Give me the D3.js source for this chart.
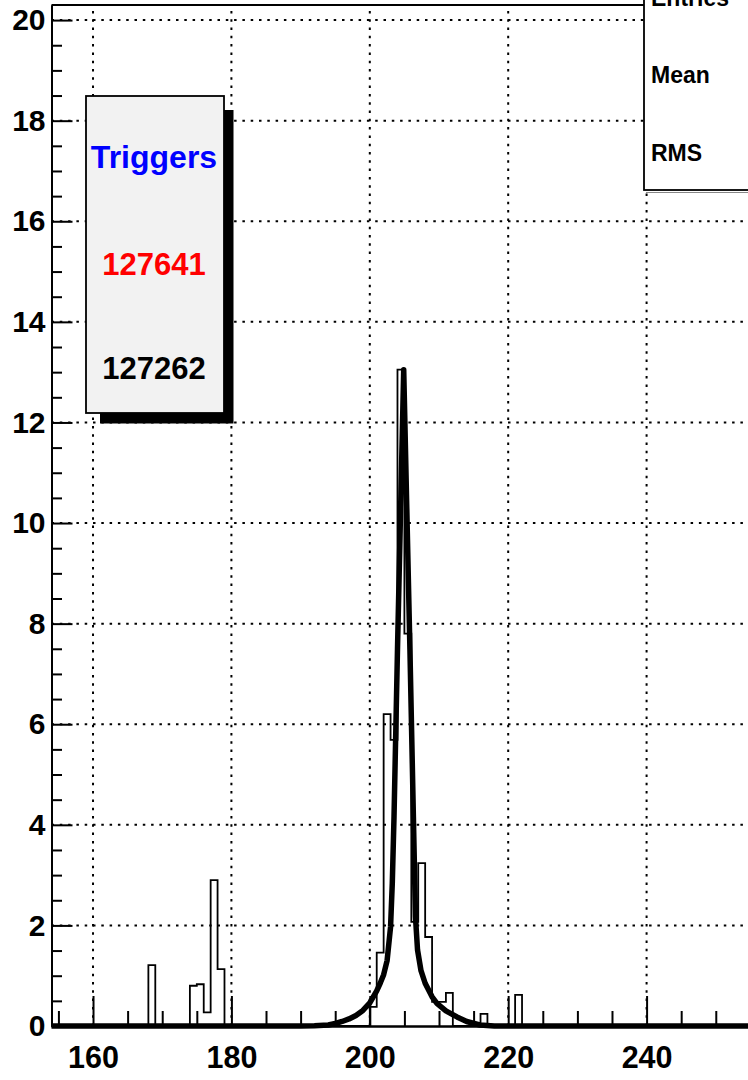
<!DOCTYPE html>
<html>
<head>
<meta charset="utf-8">
<script src="https://cdn.jsdelivr.net/npm/d3@7"></script>
<style>
  html, body { margin: 0; padding: 0; background: #fff; }
  svg { display: block; font-family: "Liberation Sans", Arial, Helvetica, sans-serif; font-weight: bold; }
</style>
</head>
<body>
<svg id="chart" width="748" height="1080"></svg>
<script>
// ---- data ----
const binStart   = [168, 174, 175, 176, 177, 178, 200, 201, 202, 203, 204, 205, 206, 207, 208, 209, 210, 211, 216, 221];
const binContent = [1.21, 0.80, 0.83, 0.27, 2.90, 1.13, 0.38, 1.46, 6.20, 5.69, 13.05, 7.80, 2.07, 3.24, 1.77, 0.48, 0.48, 0.66, 0.24, 0.62];
const binWidth = 1;
const histMin = 154, histMax = 256;

const fitX = [154, 190, 192, 194, 195, 196, 197, 198, 199, 200, 200.5, 201, 201.5, 202, 202.5, 203, 203.25, 203.5, 204, 204.9,
              205.8, 206.3, 206.6, 206.9, 207.4, 208, 209, 209.7, 211, 212.6, 214, 215.9, 218, 256];
const fitY = [0, 0, 0.005, 0.02, 0.05, 0.09, 0.14, 0.21, 0.31, 0.46, 0.58, 0.70, 0.85, 1.02, 1.30, 1.97, 2.84, 4.16, 7.48, 13.05,
              7.48, 4.16, 2.17, 1.51, 1.10, 0.85, 0.58, 0.45, 0.30, 0.18, 0.09, 0.02, 0, 0];

const xMajor = [160, 180, 200, 220, 240];
const yMajor = [0, 2, 4, 6, 8, 10, 12, 14, 16, 18, 20];
const statsLabels = ["Entries", "Mean", "RMS"];
const legendTitle = "Triggers";
const legendValues = ["127641", "127262"];
const legendColors = ["#0000ff", "#ff0000", "#000000"];

// ---- scales ----
const x = d3.scaleLinear().domain([histMin, histMax]).range([51.5, 757.3]);
const y = d3.scaleLinear().domain([0, 20.3]).range([1026, 5]);

const svg = d3.select("#chart");
svg.append("rect").attr("width", 748).attr("height", 1080).attr("fill", "#fff");

// ---- grid ----
const grid = svg.append("g").attr("stroke", "#000").attr("stroke-width", 2).attr("stroke-dasharray", "2.5,5.8");
grid.selectAll("line.gx").data(xMajor).join("line")
  .attr("x1", d => x(d)).attr("x2", d => x(d)).attr("y1", y(0)).attr("y2", y.range()[1]);
grid.selectAll("line.gy").data(yMajor.filter(d => d > 0)).join("line")
  .attr("x1", x.range()[0]).attr("x2", 760).attr("y1", d => y(d)).attr("y2", d => y(d));

// ---- histogram (step line) ----
const lookup = new Map(binStart.map((b, i) => [b, binContent[i]]));
const histPts = d3.range(histMin, histMax, binWidth).map(b => [b, lookup.get(b) || 0]);
histPts.push([histMax, 0]);
const stepLine = d3.line().x(d => x(d[0])).y(d => y(d[1])).curve(d3.curveStepAfter);
svg.append("path").attr("d", stepLine(histPts))
  .attr("fill", "none").attr("stroke", "#000").attr("stroke-width", 1.8);

// ---- fit curve ----
const fitPts = fitX.map((v, i) => [v, fitY[i]]);
svg.append("path").attr("d", d3.line().x(d => x(d[0])).y(d => y(d[1]))(fitPts))
  .attr("fill", "none").attr("stroke", "#000").attr("stroke-width", 5.5)
  .attr("stroke-linejoin", "round");

// ---- axes ----
function styleAxis(g) {
  g.selectAll("path.domain").attr("stroke", "#000").attr("stroke-width", 2);
  g.selectAll(".tick line").attr("stroke", "#000").attr("stroke-width", 2);
  g.selectAll("text").attr("fill", "#000").attr("font-size", 30).attr("font-weight", "bold")
    .attr("font-family", '"Liberation Sans", Arial, sans-serif');
}
const xMinor = d3.range(155, 256, 5).filter(v => !xMajor.includes(v));
const yMinor = d3.range(0, 20.01, 0.5).filter(v => !yMajor.includes(v));

svg.append("g").attr("transform", `translate(0,${y(0)})`)
  .call(d3.axisBottom(x).tickValues(xMinor).tickSize(-15).tickSizeOuter(0).tickFormat(""))
  .call(styleAxis);
svg.append("g").attr("transform", `translate(0,${y(0)})`)
  .call(d3.axisBottom(x).tickValues(xMajor).tickSize(-30).tickSizeOuter(0).tickPadding(20).tickFormat(d3.format("d")))
  .call(styleAxis)
  .call(g => g.selectAll("text").attr("font-size", 30.5));

svg.append("g").attr("transform", `translate(${x.range()[0]},0)`)
  .call(d3.axisLeft(y).tickValues(yMinor).tickSize(-10.5).tickSizeOuter(0).tickFormat(""))
  .call(styleAxis);
svg.append("g").attr("transform", `translate(${x.range()[0]},0)`)
  .call(d3.axisLeft(y).tickValues(yMajor).tickSize(-21).tickSizeOuter(0).tickPadding(6).tickFormat(d3.format("d")))
  .call(styleAxis);

// top frame line
svg.append("line").attr("x1", x.range()[0]).attr("x2", 760).attr("y1", y.range()[1]).attr("y2", y.range()[1])
  .attr("stroke", "#000").attr("stroke-width", 2);

// ---- legend box (Triggers) ----
const lb = { x0: 86, y0: 96, x1: 224, y1: 413 };
svg.append("rect").attr("x", lb.x0 + 14).attr("y", lb.y0 + 14)
  .attr("width", lb.x1 - lb.x0 - 4.5).attr("height", lb.y1 - lb.y0 - 3.5).attr("fill", "#000");
svg.append("rect").attr("x", lb.x0).attr("y", lb.y0)
  .attr("width", lb.x1 - lb.x0).attr("height", lb.y1 - lb.y0)
  .attr("fill", "#f2f2f2").attr("stroke", "#000").attr("stroke-width", 1.8);
const legendTexts = [legendTitle, ...legendValues];
const legendBase = [167.5, 274.5, 378.5];
const legendSizes = [32, 31, 31];
svg.append("g").selectAll("text").data(legendTexts).join("text")
  .attr("x", 154).attr("y", (d, i) => legendBase[i])
  .attr("text-anchor", "middle").attr("font-size", (d, i) => legendSizes[i])
  .attr("fill", (d, i) => legendColors[i]).text(d => d);

// ---- stats box (cut at the page edge) ----
svg.append("line").attr("x1", 646).attr("x2", 760).attr("y1", 192.5).attr("y2", 192.5)
  .attr("stroke", "#888").attr("stroke-width", 1);
svg.append("rect").attr("x", 644).attr("y", -10).attr("width", 120).attr("height", 200)
  .attr("fill", "#fff").attr("stroke", "#000").attr("stroke-width", 1.8);
svg.append("g").selectAll("text").data(statsLabels).join("text")
  .attr("x", 651).attr("y", (d, i) => 6 + i * 77.4)
  .attr("font-size", 23).attr("fill", "#000").text(d => d);
</script>
</body>
</html>
